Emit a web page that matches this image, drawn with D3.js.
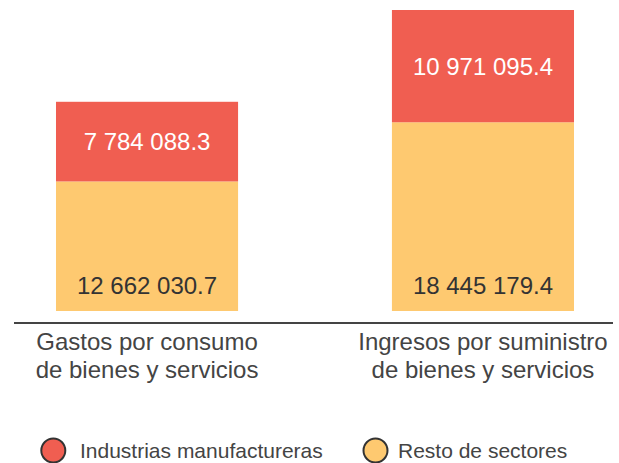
<!DOCTYPE html>
<html>
<head>
<meta charset="utf-8">
<script src="https://cdn.jsdelivr.net/npm/d3@7"></script>
<style>
  body { margin: 0; background: #fff; }
  text { font-family: "Liberation Sans", Arial, sans-serif; }
</style>
</head>
<body>
<div class="chart"></div>
<script>
// data
var categories = [
  ["Gastos por consumo", "de bienes y servicios"],
  ["Ingresos por suministro", "de bienes y servicios"]
];
var seriesNames = ["Resto de sectores", "Industrias manufactureras"];
var resto = [12662030.7, 18445179.4];
var industrias = [7784088.3, 10971095.4];
var colors = ["#fec970", "#f05e51"];
var labelColors = ["#333333", "#ffffff"];

var fmt = function (v) {
  var parts = v.toFixed(1).split(".");
  return parts[0].replace(/\B(?=(\d{3})+(?!\d))/g, " ") + "." + parts[1];
};

var svg = d3.select(".chart").append("svg").attr("width", 619).attr("height", 463),
    x = d3.scaleBand().domain(d3.range(categories.length)).range([14, 616])
          .paddingInner(0.458).paddingOuter(0.125),
    y = d3.scaleLinear()
          .domain([0, d3.max(resto.map((r, i) => r + industrias[i]))])
          .range([311, 10]);

var stackData = resto.map((r, i) => ({ i: i, v: [r, industrias[i]] }));
var stacked = d3.stack().keys([0, 1]).value((d, k) => d.v[k])(stackData);

var layers = svg.selectAll(".layer")
  .data(stacked)
  .enter().append("g")
    .attr("class", "layer")
    .attr("fill", (d, k) => colors[k]);

layers.selectAll("rect")
  .data(d => d)
  .enter().append("rect")
    .attr("x", d => x(d.data.i))
    .attr("y", d => y(d[1]))
    .attr("width", x.bandwidth())
    .attr("height", d => y(d[0]) - y(d[1]));

// value labels: top segment centred, bottom segment near the base
layers.each(function (layer, k) {
  d3.select(this).selectAll("text")
    .data(layer)
    .enter().append("text")
      .attr("x", d => x(d.data.i) + x.bandwidth() / 2)
      .attr("y", d => k == 1 ? (y(d[0]) + y(d[1])) / 2 + 8.5 : y(d[0]) - 17)
      .attr("text-anchor", "middle")
      .style("font-size", "24px")
      .attr("fill", labelColors[k])
      .text(d => fmt(d.data.v[k]));
});

// baseline
svg.append("line")
  .attr("x1", 14).attr("x2", 613)
  .attr("y1", 323).attr("y2", 323)
  .attr("stroke", "#444").attr("stroke-width", 2);

// category labels
svg.selectAll(".cat")
  .data(categories)
  .enter().append("text")
    .attr("class", "cat")
    .attr("text-anchor", "middle")
    .attr("fill", "#444")
    .style("font-size", "24px")
    .attr("transform", (d, i) => `translate(${x(i) + x.bandwidth() / 2},350)`)
    .selectAll("tspan")
    .data(d => d)
    .enter().append("tspan")
      .attr("x", 0)
      .attr("y", (d, j) => j * 28)
      .text(d => d);

// legend
var legendItems = [
  { name: seriesNames[1], color: colors[1], cx: 53.3, tx: 80 },
  { name: seriesNames[0], color: colors[0], cx: 375.5, tx: 398 }
];
var lg = svg.selectAll(".legend")
  .data(legendItems)
  .enter().append("g")
    .attr("class", "legend");

lg.append("circle")
  .attr("cx", d => d.cx)
  .attr("cy", 450.5)
  .attr("r", 12)
  .attr("fill", d => d.color)
  .attr("stroke", "#333")
  .attr("stroke-width", 2);

lg.append("text")
  .attr("x", d => d.tx)
  .attr("y", 458)
  .attr("fill", "#444")
  .style("font-size", "21px")
  .text(d => d.name);
</script>
</body>
</html>
